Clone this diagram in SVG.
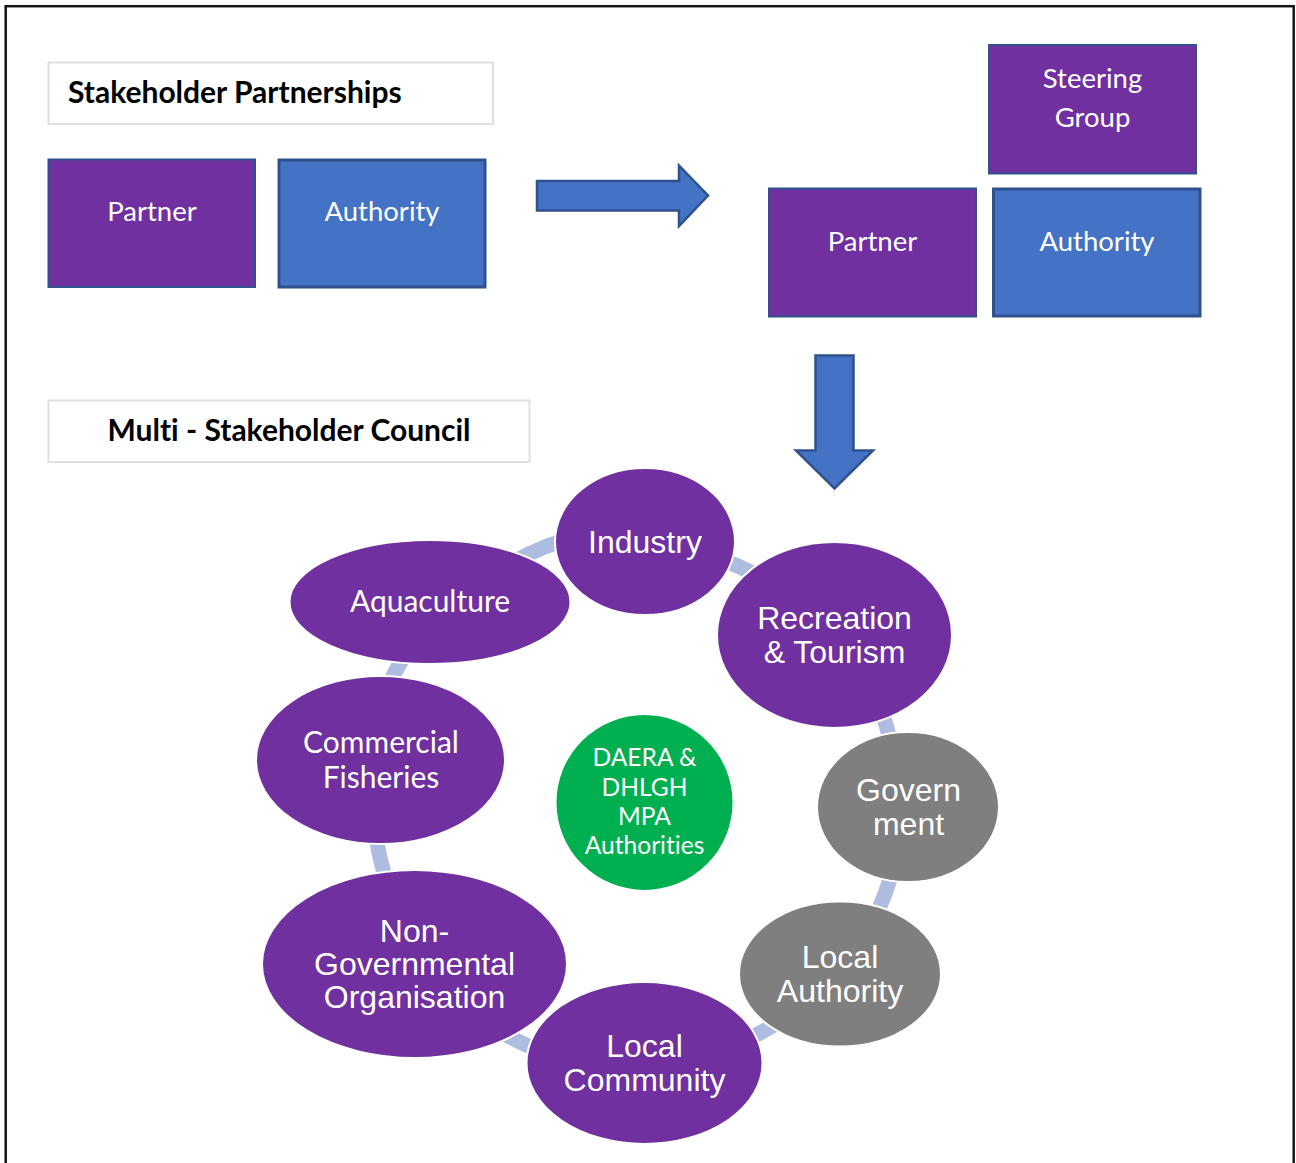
<svg xmlns="http://www.w3.org/2000/svg" width="1296" height="1163" viewBox="0 0 1296 1163">
  <style>
    text { font-variant-ligatures: none; }
    .frame { fill: none; stroke: #141414; stroke-width: 2.5; }
    .title-box { fill: #ffffff; stroke: #e0e0e0; stroke-width: 2; }
    .title { font-family: Lato, "Open Sans", sans-serif; font-weight: bold; font-size: 30px; fill: #000000; }
    .box-purple { fill: #7030a0; stroke: #2f528f; stroke-width: 2; }
    .box-blue { fill: #4472c4; stroke: #2f528f; stroke-width: 3; }
    .box-label { font-family: Lato, "Open Sans", sans-serif; font-size: 27.5px; fill: #ffffff; text-anchor: middle; }
    .big-arrow { fill: #4472c4; stroke: #2f528f; stroke-width: 2.5; stroke-linejoin: miter; }
    .ring-link { fill: none; stroke: #aebce0; stroke-width: 15; }
    .node-purple { fill: #7030a0; stroke: #ffffff; stroke-width: 2; }
    .node-grey { fill: #7f7f7f; stroke: #ffffff; stroke-width: 2; }
    .node-green { fill: #00b050; stroke: #ffffff; stroke-width: 2; }
    .lbl-a { font-family: "Liberation Sans", Arial, sans-serif; font-size: 32px; fill: #ffffff; text-anchor: middle; }
    .lbl-c { font-family: Lato, "Open Sans", sans-serif; font-size: 30px; fill: #ffffff; text-anchor: middle; }
    .lbl-s { font-family: Lato, "Open Sans", sans-serif; font-size: 24.6px; fill: #ffffff; text-anchor: middle; }
  </style>

  <rect class="frame" x="5.7" y="6.2" width="1288" height="1170"/>

  <!-- Stage 1: stakeholder partnerships -->
  <g id="title-partnerships">
    <rect class="title-box" x="48.5" y="62.5" width="444.5" height="61.5"/>
    <text class="title" x="68" y="102.5">Stakeholder Partnerships</text>
  </g>
  <g id="partner-1">
    <rect class="box-purple" x="48.5" y="159.5" width="206.5" height="127.5"/>
    <text class="box-label" x="152" y="221">Partner</text>
  </g>
  <g id="authority-1">
    <rect class="box-blue" x="279" y="160" width="206" height="127"/>
    <text class="box-label" x="382" y="221">Authority</text>
  </g>

  <!-- Stage 2: steering group -->
  <g id="steering-group">
    <rect class="box-purple" x="989" y="45" width="207" height="128.5"/>
    <text class="box-label" x="1092.5" y="88">Steering</text>
    <text class="box-label" x="1092.5" y="127">Group</text>
  </g>
  <g id="partner-2">
    <rect class="box-purple" x="769" y="188.5" width="207" height="128"/>
    <text class="box-label" x="872.5" y="251">Partner</text>
  </g>
  <g id="authority-2">
    <rect class="box-blue" x="993.5" y="189" width="206.5" height="127"/>
    <text class="box-label" x="1097" y="251">Authority</text>
  </g>

  <!-- Stage 3 title -->
  <g id="title-council">
    <rect class="title-box" x="48.5" y="400.5" width="481" height="61.5"/>
    <text class="title" x="289" y="440.5" text-anchor="middle">Multi - Stakeholder Council</text>
  </g>

  <!-- Stage transition arrows -->
  <g id="stage-arrows">
    <path class="big-arrow" d="M537,181 H679 V165.5 L708,195.5 L679,226 V210.5 H537 Z"/>
    <path class="big-arrow" d="M815.5,355.5 H853.5 V450.5 H873 L834.5,488.5 L796,450.5 H815.5 Z"/>
  </g>

  <!-- Ring links between council members (centre 634,800) -->
  <g id="connectors">
    <path class="ring-link" d="M504.5,567 A270,270 0 0 1 584.9,534.5"/>
    <path class="ring-link" d="M712.9,556.5 A256,256 0 0 1 769.5,582.8"/>
    <path class="ring-link" d="M875.9,696.8 A263,263 0 0 1 893.7,758.4"/>
    <path class="ring-link" d="M894.8,861.8 A268,268 0 0 1 872.1,923"/>
    <path class="ring-link" d="M790.5,1013.9 A265,265 0 0 1 734,1045.4"/>
    <path class="ring-link" d="M550.4,1054.1 A267.5,267.5 0 0 1 491.4,1026.3"/>
    <path class="ring-link" d="M389,888.5 A260.5,260.5 0 0 1 374.9,826.6"/>
    <path class="ring-link" d="M382.6,698.8 A271,271 0 0 1 414.6,641"/>
  </g>

  <!-- Council members -->
  <g id="aquaculture">
    <ellipse class="node-purple" cx="430" cy="602" rx="140.5" ry="62"/>
    <text class="lbl-c" x="430" y="612">Aquaculture</text>
  </g>
  <g id="industry">
    <ellipse class="node-purple" cx="645" cy="541.5" rx="90" ry="73.5"/>
    <text class="lbl-a" x="645" y="552.5">Industry</text>
  </g>
  <g id="recreation-tourism">
    <ellipse class="node-purple" cx="834.5" cy="635" rx="117.5" ry="93"/>
    <text class="lbl-a" x="834.5" y="628.5">Recreation</text>
    <text class="lbl-a" x="834.5" y="662.5">&amp; Tourism</text>
  </g>
  <g id="government">
    <ellipse class="node-grey" cx="908" cy="807" rx="91" ry="75"/>
    <text class="lbl-a" x="908.5" y="800.5">Govern</text>
    <text class="lbl-a" x="908.5" y="835">ment</text>
  </g>
  <g id="local-authority">
    <ellipse class="node-grey" cx="840" cy="974" rx="101" ry="72.5"/>
    <text class="lbl-a" x="840" y="967.5">Local</text>
    <text class="lbl-a" x="840" y="1001.5">Authority</text>
  </g>
  <g id="commercial-fisheries">
    <ellipse class="node-purple" cx="380.5" cy="760" rx="124.5" ry="84"/>
    <text class="lbl-c" x="381" y="753">Commercial</text>
    <text class="lbl-c" x="381" y="788">Fisheries</text>
  </g>
  <g id="ngo">
    <ellipse class="node-purple" cx="414.5" cy="964" rx="152.5" ry="94"/>
    <text class="lbl-a" x="414.5" y="941.5">Non-</text>
    <text class="lbl-a" x="414.5" y="974.5">Governmental</text>
    <text class="lbl-a" x="414.5" y="1007.5">Organisation</text>
  </g>
  <g id="local-community">
    <ellipse class="node-purple" cx="644.5" cy="1063" rx="118" ry="81"/>
    <text class="lbl-a" x="644.5" y="1056.5">Local</text>
    <text class="lbl-a" x="644.5" y="1090.5">Community</text>
  </g>
  <g id="mpa-authorities">
    <ellipse class="node-green" cx="644.5" cy="802.5" rx="89" ry="88.5"/>
    <text class="lbl-s" x="644.5" y="766">DAERA &amp;</text>
    <text class="lbl-s" x="644.5" y="796">DHLGH</text>
    <text class="lbl-s" x="644.5" y="825">MPA</text>
    <text class="lbl-s" x="644.5" y="854">Authorities</text>
  </g>
</svg>
